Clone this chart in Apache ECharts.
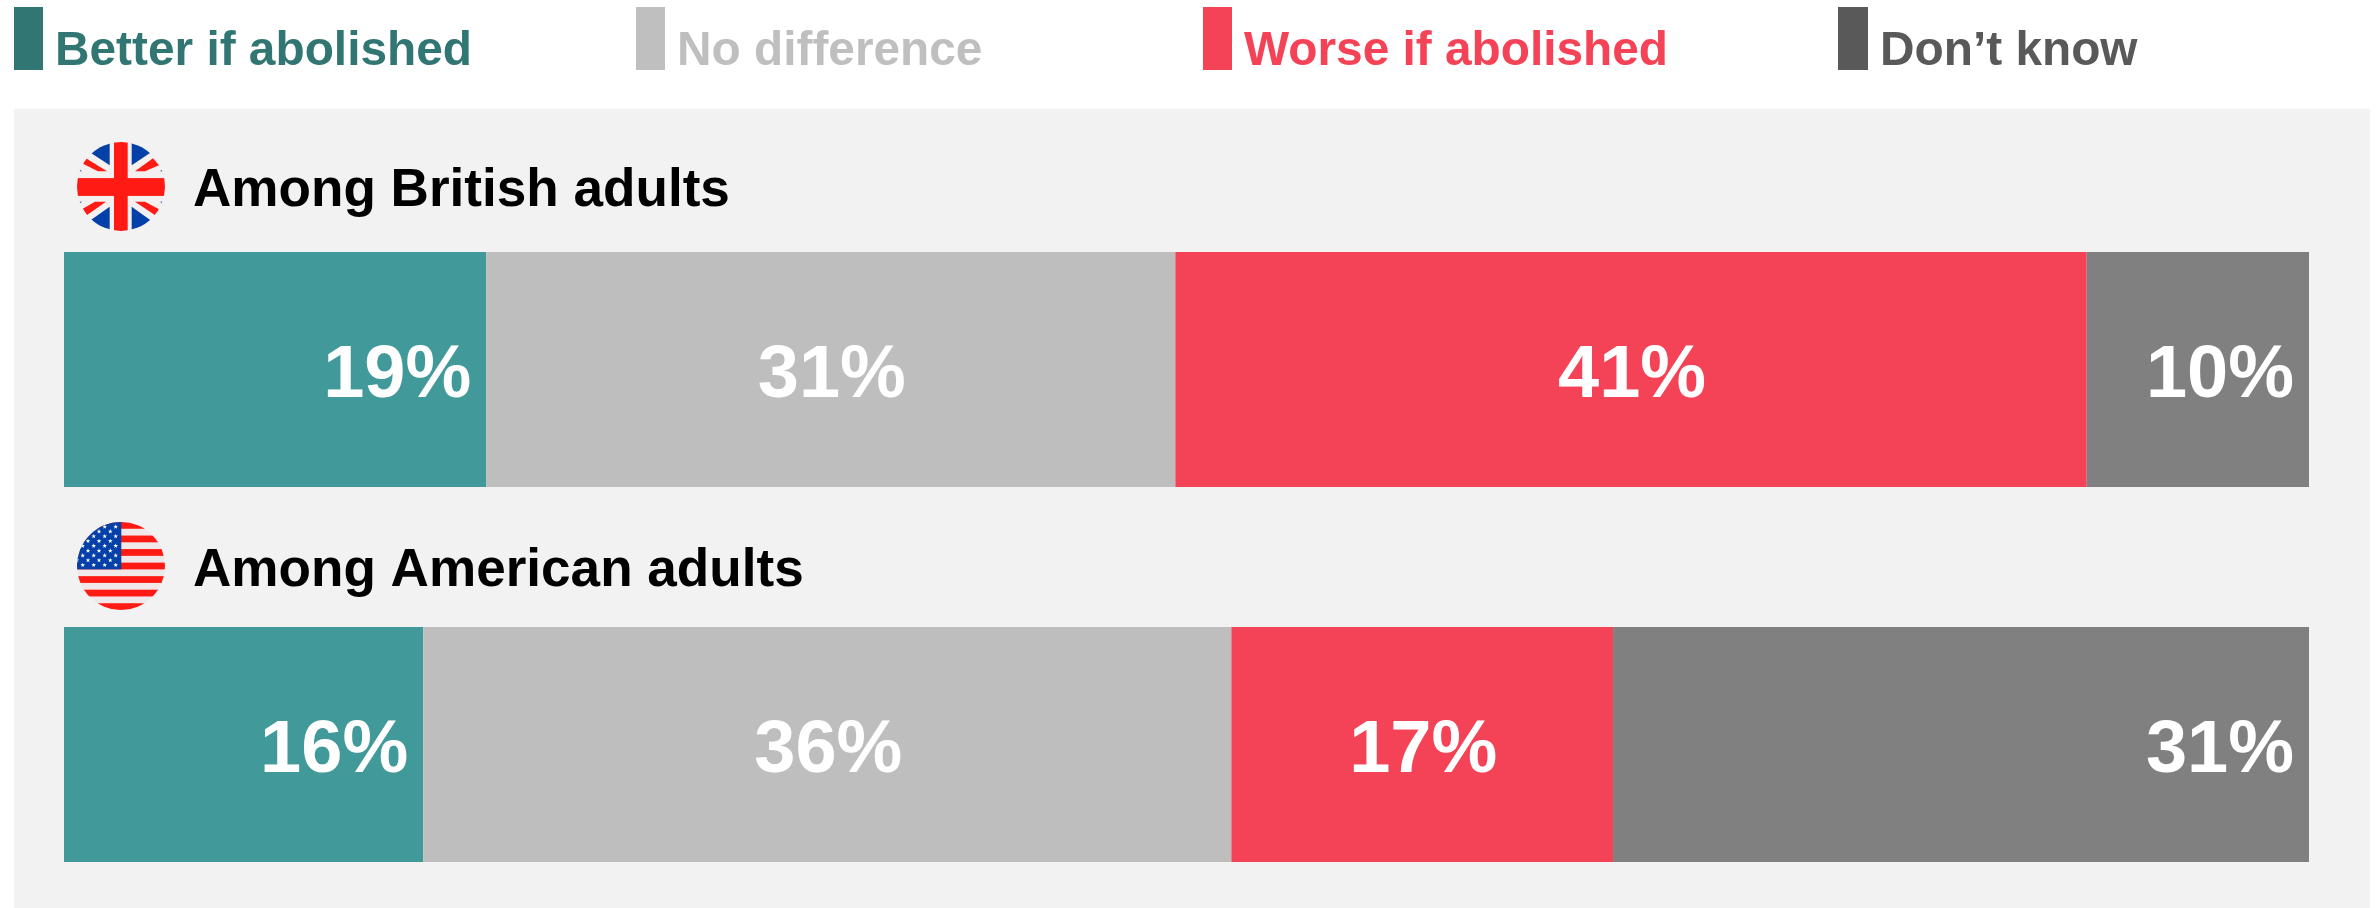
<!DOCTYPE html>
<html><head><meta charset="utf-8">
<style>html,body{margin:0;padding:0;background:#fff}#c{width:2377px;height:908px}</style>
<script src="https://cdn.jsdelivr.net/npm/echarts@6/dist/echarts.min.js"></script></head>
<body><div id="c"></div>
<script>
const categories = ['Among British adults', 'Among American adults'];
const responses = ['Better if abolished', 'No difference', 'Worse if abolished', 'Don\u2019t know'];
const betterIfAbolished = [19, 16];
const noDifference = [31, 36];
const worseIfAbolished = [41, 17];
const dontKnow = [10, 31];

const seriesValues = [betterIfAbolished, noDifference, worseIfAbolished, dontKnow];
const barColors = ['#429999', '#BEBEBE', '#F44356', '#808080'];
const legendColors = ['#317673', '#BFBFBF', '#F44356', '#595959'];
const legendLefts = [14, 636, 1203, 1838];
const legendWidths = [29, 29, 29, 30];
const labelRight = [true, false, false, true];
const gridTops = [252, 627];
const FONT = '"Liberation Sans", Arial, sans-serif';
// legend swatch is the visible part of a larger item so the text sits lower than, and clear of, the swatch
const legendIcon = w => `path://M0,0H${w}V63H0ZM${w + 7},90L${w + 7},90Z`;

function ukFlag() {
  return `<svg xmlns="http://www.w3.org/2000/svg" width="176" height="176" viewBox="0 0 88 88">
  <defs><clipPath id="k"><circle cx="44" cy="44" r="44"/></clipPath></defs>
  <g clip-path="url(#k)"><rect width="88" height="88" fill="#F4F0F0"/>
  <g fill="#0540A8">
   <polygon points="32.7,0 32.7,23 11,9 20,0"/><polygon points="54.7,0 54.7,23 76,9 68,0"/>
   <polygon points="32.7,88 32.7,64 11,79 20,88"/><polygon points="54.7,88 54.7,64 76,79 68,88"/>
   <polygon points="2,27 5,29 2,29"/><polygon points="86,27 83,29 86,29"/><polygon points="2,61 5,59 2,59"/><polygon points="86,61 83,59 86,59"/>
  </g>
  <g fill="#FF1A14">
   <polygon points="9,16 30,29 21,29 5,21"/><polygon points="76,16 58,29 68,29 82,23"/>
   <polygon points="29,59 18,59 4,67 9,73"/><polygon points="58,59 68,59 83,67 79,73"/>
   <rect x="37" y="0" width="13.7" height="88"/><rect x="0" y="35.7" width="88" height="17.6"/>
  </g></g></svg>`;
}
function starPoly(cx, cy, r) {
  const pts = [];
  for (let k = 0; k < 10; k++) {
    const a = -Math.PI / 2 + k * Math.PI / 5, q = k % 2 ? r * 0.42 : r;
    pts.push((cx + q * Math.cos(a)).toFixed(2) + ',' + (cy + q * Math.sin(a)).toFixed(2));
  }
  return `<polygon points="${pts.join(' ')}" fill="#fff"/>`;
}
function usFlag() {
  let stripes = '', stars = '';
  const h = 88 / 13;
  for (let i = 0; i < 13; i += 2) stripes += `<rect x="0" y="${i * h}" width="88" height="${h}" fill="#FF1A14"/>`;
  for (let r = 0; r < 9; r++) {
    const xs = r % 2 ? [0, 11, 22, 33.3] : [5.7, 16.7, 27.7, 38.7];
    xs.forEach(x => { stars += starPoly(x, 4.7 + r * 4.8, 2.4); });
  }
  return `<svg xmlns="http://www.w3.org/2000/svg" width="176" height="176" viewBox="0 0 88 88">
  <defs><clipPath id="u"><circle cx="44" cy="44" r="44"/></clipPath></defs>
  <g clip-path="url(#u)"><rect width="88" height="88" fill="#F0E8E8"/>${stripes}
  <rect x="0" y="0" width="44.3" height="47.3" fill="#0540A8"/>${stars}</g></svg>`;
}
const svgUri = s => 'data:image/svg+xml;charset=utf-8,' + encodeURIComponent(s);

const grids = categories.map((_, i) => ({ left: 64, width: 2245, top: gridTops[i], height: 235, containLabel: false }));
const xAxes = categories.map((_, i) => ({
  type: 'value', gridIndex: i, min: 0,
  max: seriesValues.reduce((a, v) => a + v[i], 0), show: false
}));
const yAxes = categories.map((c, i) => ({ type: 'category', gridIndex: i, data: [c], show: false }));

const series = [];
categories.forEach((c, i) => {
  responses.forEach((name, j) => {
    series.push({
      type: 'bar', name, stack: 'g' + i, xAxisIndex: i, yAxisIndex: i,
      barWidth: '100%', data: [seriesValues[j][i]],
      itemStyle: { color: barColors[j] },
      label: {
        show: true, formatter: '{c}%', color: '#fff', fontFamily: FONT, fontWeight: 'bold', fontSize: 74,
        position: labelRight[j] ? 'insideRight' : 'inside', distance: 15, offset: [labelRight[j] ? 0 : 1, 7]
      }
    });
  });
});

const legends = responses.map((name, j) => ({
  data: [{ name, icon: legendIcon(legendWidths[j]) }], left: legendLefts[j], top: 7, padding: 0, orient: 'horizontal',
  itemWidth: legendWidths[j] + 7, itemHeight: 90, selectedMode: false,
  itemStyle: { color: legendColors[j] },
  textStyle: { color: legendColors[j], fontFamily: FONT, fontWeight: 'bold', fontSize: 47.8 }
}));

const titles = categories.map((c, i) => ({
  text: c, left: 193, top: [186, 566][i] - 25, padding: 0,
  textStyle: { color: '#000', fontFamily: FONT, fontWeight: 'bold', fontSize: 53.1, lineHeight: 60 }
}));

const chart = echarts.init(document.getElementById('c'), null, { renderer: 'canvas' });
chart.setOption({
  animation: false, backgroundColor: '#fff',
  title: titles, legend: legends, grid: grids, xAxis: xAxes, yAxis: yAxes, series,
  graphic: [
    { type: 'rect', z: -10, silent: true, shape: { x: 14, y: 109, width: 2356, height: 799 }, style: { fill: '#F2F2F2' } },
    { type: 'image', z: 5, silent: true, style: { image: svgUri(ukFlag()), x: 77, y: 142, width: 88, height: 89 } },
    { type: 'image', z: 5, silent: true, style: { image: svgUri(usFlag()), x: 77, y: 522, width: 88, height: 88 } }
  ]
});
</script></body></html>
